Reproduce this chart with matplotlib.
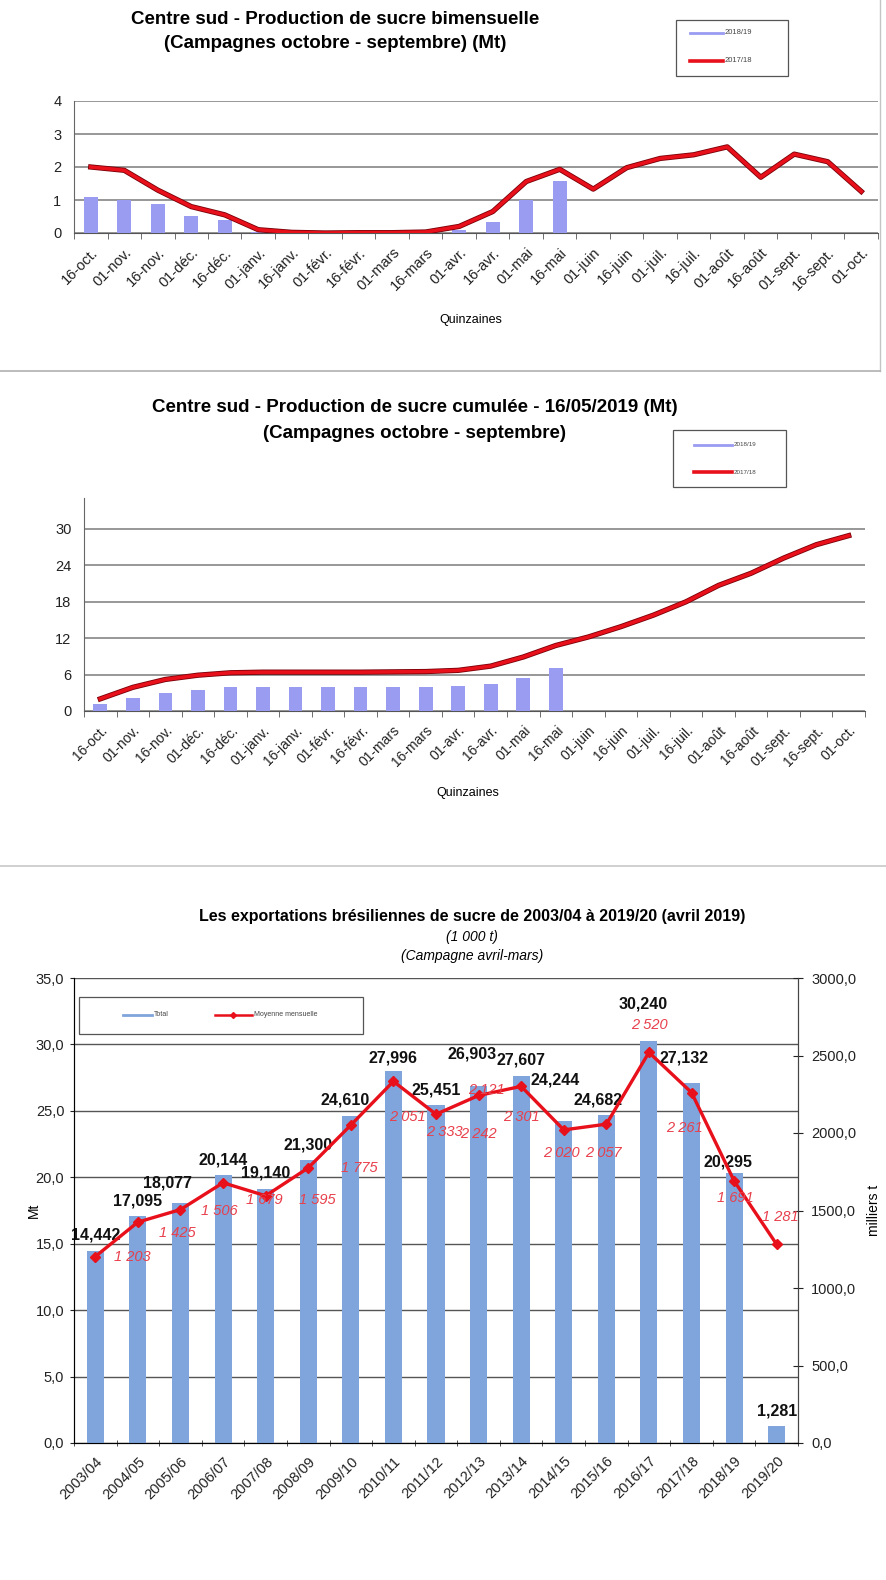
import matplotlib
matplotlib.use("Agg")
import matplotlib.pyplot as plt
import matplotlib.patheffects as pe
from matplotlib.lines import Line2D
from matplotlib.patches import Rectangle
from matplotlib.ticker import FuncFormatter, FixedLocator
import numpy as np

plt.rcParams['font.family'] = ['Liberation Sans', 'DejaVu Sans']

# --- donnees ---
QUINZAINES = ['16-oct.', '01-nov.', '16-nov.', '01-déc.', '16-déc.', '01-janv.',
              '16-janv.', '01-févr.', '16-févr.', '01-mars', '16-mars', '01-avr.',
              '16-avr.', '01-mai', '16-mai', '01-juin', '16-juin', '01-juil.',
              '16-juil.', '01-août', '16-août', '01-sept.', '16-sept.', '01-oct.']

BIMENS_1819 = [1.08, 1.00, 0.88, 0.52, 0.40, 0.02, 0.0, 0.0, 0.0, 0.0, 0.0,
               0.10, 0.33, 1.00, 1.57]
BIMENS_1718 = [2.00, 1.90, 1.30, 0.80, 0.55, 0.10, 0.02, 0.00, 0.01, 0.01, 0.03,
               0.20, 0.65, 1.56, 1.93, 1.33, 1.98, 2.26, 2.37, 2.61, 1.69, 2.39,
               2.16, 1.26]

CUMUL_1819 = [1.1, 2.1, 3.0, 3.5, 3.9, 4.0, 4.0, 4.0, 4.0, 4.0, 4.0, 4.1, 4.4,
              5.4, 7.1]
CUMUL_1718 = [2.0, 3.9, 5.2, 5.9, 6.3, 6.4, 6.4, 6.4, 6.4, 6.45, 6.5, 6.7, 7.4,
              8.9, 10.8, 12.2, 13.9, 15.8, 18.0, 20.7, 22.7, 25.2, 27.4, 28.9]

CAMPAGNES = ['2003/04', '2004/05', '2005/06', '2006/07', '2007/08', '2008/09',
             '2009/10', '2010/11', '2011/12', '2012/13', '2013/14', '2014/15',
             '2015/16', '2016/17', '2017/18', '2018/19', '2019/20']
TOTAL_MT = [14.442, 17.095, 18.077, 20.144, 19.140, 21.300, 24.610, 27.996,
            25.451, 26.903, 27.607, 24.244, 24.682, 30.240, 27.132, 20.295, 1.281]
MOYENNE_KT = [1203, 1425, 1506, 1679, 1595, 1775, 2051, 2333, 2121, 2242, 2301,
              2020, 2057, 2520, 2261, 1691, 1281]

# decalages des etiquettes (pixels, y vers le haut)
OFF_BARRES = [(0, 16), (0, 15), (-13, 20), (0, 15), (0, 16), (0, 15), (-6, 16),
              (0, 13), (0, 15), (-7, 32), (0, 16), (-9, 41), (-8, 15), (-6, 37),
              (-7, 25), (-6, 11), (0, 15)]
OFF_MOY = [(37, 0), (39, -11), (39, -1), (41, -17), (52, -4), (51, 0), (57, 8),
           (51, -51), (50, 24), (0, -39), (0, -31), (-2, -23), (-3, -29),
           (0, 27), (-7, -35), (1, -17), (4, 27)]

W, H = 887, 1580
BLEU_Q = '#9a9cf2'
BLEU_T = '#7fa5dc'
ROUGE = '#e8101a'
GRILLE = '#7a7a7a'

fig = plt.figure(figsize=(W / 100, H / 100), dpi=100)
fig.patch.set_facecolor('white')


def ax_px(l, t, r, b):
    return fig.add_axes([l / W, 1 - b / H, (r - l) / W, (b - t) / H])


def fx(x):
    return x / W


def fy(y):
    return 1 - y / H


def legende(box, items, fs=5.5):
    x0, y0, x1, y1 = box
    fig.add_artist(Rectangle((fx(x0), fy(y1)), fx(x1) - fx(x0), fy(y0) - fy(y1),
                             transform=fig.transFigure, fill=False,
                             edgecolor='#555555', lw=0.9))
    for (la, lb, y, col, lw, txt, mk) in items:
        fig.add_artist(Line2D([fx(la), fx(lb)], [fy(y), fy(y)], color=col, lw=lw,
                              transform=fig.transFigure))
        if mk:
            fig.add_artist(Line2D([fx((la + lb) / 2)], [fy(y)], marker='D', ms=3,
                                  color=col, transform=fig.transFigure))
        fig.text(fx(lb + 2), fy(y), txt, fontsize=fs, color='#444444',
                 va='center', ha='left')


def ligne_rouge(ax, x, y, lw=2.6):
    ax.plot(x, y, color=ROUGE, lw=lw, solid_joinstyle='round', zorder=4,
            path_effects=[pe.Stroke(linewidth=lw + 1.2, foreground='#7a0008'),
                          pe.Normal()])


def axe_quinzaines(ax, fs):
    n = len(QUINZAINES)
    ax.set_xlim(-0.5, n - 0.5)
    ax.set_xticks(range(n))
    ax.set_xticklabels(QUINZAINES, rotation=45, ha='right', va='top',
                       rotation_mode='anchor', fontsize=fs, color='#222222')
    ax.xaxis.set_minor_locator(FixedLocator(np.arange(-0.5, n, 1.0)))
    ax.tick_params(axis='x', which='major', length=0, pad=9)
    ax.tick_params(axis='x', which='minor', length=4, color='#555555')
    ax.tick_params(axis='y', length=0, labelsize=10.5, pad=9, colors='#222222')
    for s in ['top', 'right']:
        ax.spines[s].set_visible(False)
    ax.spines['left'].set_color('#666666')
    ax.spines['bottom'].set_color('#555555')
    ax.yaxis.grid(True, color=GRILLE, lw=1.1)
    ax.set_axisbelow(True)


# ---------- graphique 1 : production bimensuelle ----------
ax1 = ax_px(74, 101, 878, 233)
x = np.arange(len(QUINZAINES))
ax1.bar(x[:len(BIMENS_1819)], BIMENS_1819, width=0.42, color=BLEU_Q, zorder=3)
ligne_rouge(ax1, x, BIMENS_1718)
ax1.set_ylim(0, 4)
ax1.set_yticks([0, 1, 2, 3, 4])
axe_quinzaines(ax1, 10.5)
fig.text(fx(335), fy(20), 'Centre sud - Production de sucre bimensuelle',
         ha='center', va='center', fontsize=13.5, fontweight='bold')
fig.text(fx(335), fy(44), '(Campagnes octobre - septembre) (Mt)',
         ha='center', va='center', fontsize=13.5, fontweight='bold')
fig.text(fx(471), fy(320), 'Quinzaines', ha='center', va='center', fontsize=9)
legende((676, 20, 788, 76),
        [(690, 723, 33, BLEU_Q, 2, '2018/19', False),
         (690, 723, 61, ROUGE, 2.6, '2017/18', False)])
# cadre du premier graphique
fig.add_artist(Line2D([fx(880), fx(880)], [fy(0), fy(371)], color='#c4c4c4',
                      lw=1, transform=fig.transFigure))
fig.add_artist(Line2D([0, fx(880)], [fy(371), fy(371)], color='#b0b0b0',
                      lw=1.2, transform=fig.transFigure))

# ---------- graphique 2 : production cumulee ----------
ax2 = ax_px(84, 498, 865, 711)
ax2.bar(x[:len(CUMUL_1819)], CUMUL_1819, width=0.42, color=BLEU_Q, zorder=3)
ligne_rouge(ax2, x, CUMUL_1718)
ax2.set_ylim(0, 35.1)
ax2.set_yticks([0, 6, 12, 18, 24, 30])
axe_quinzaines(ax2, 10)
fig.text(fx(415), fy(408), 'Centre sud - Production de sucre cumulée - 16/05/2019 (Mt)',
         ha='center', va='center', fontsize=13.5, fontweight='bold')
fig.text(fx(415), fy(433), '(Campagnes octobre - septembre)',
         ha='center', va='center', fontsize=13.5, fontweight='bold')
fig.text(fx(468), fy(793), 'Quinzaines', ha='center', va='center', fontsize=9)
legende((673, 430, 786, 487),
        [(694, 732, 445, BLEU_Q, 2, '2018/19', False),
         (694, 732, 472, ROUGE, 2.6, '2017/18', False)], fs=4.5)
fig.add_artist(Line2D([0, 1], [fy(866), fy(866)], color='#c8c8c8', lw=1.2,
                      transform=fig.transFigure))

# ---------- graphique 3 : exportations ----------
ax3 = ax_px(74, 978, 798, 1443)
xc = np.arange(len(CAMPAGNES))
ax3.bar(xc, TOTAL_MT, width=0.4, color=BLEU_T, zorder=3)
ax3.set_xlim(-0.5, len(CAMPAGNES) - 0.5)
ax3.set_ylim(0, 35)
ax3.set_yticks(np.arange(0, 35.1, 5))
ax3.yaxis.set_major_formatter(FuncFormatter(lambda v, _: f"{v:.1f}".replace('.', ',')))
ax3.yaxis.grid(True, color='#555555', lw=1.0)
ax3.set_axisbelow(True)
ax3.set_xticks(xc)
ax3.set_xticklabels(CAMPAGNES, rotation=45, ha='right', va='top',
                    rotation_mode='anchor', fontsize=10.5, color='#222222')
ax3.xaxis.set_minor_locator(FixedLocator(np.arange(-0.5, len(CAMPAGNES), 1.0)))
ax3.tick_params(axis='x', which='major', length=0, pad=8)
ax3.tick_params(axis='x', which='minor', length=5, direction='inout', color='#333333')
ax3.tick_params(axis='y', length=3, labelsize=10.5, colors='#222222', pad=4)
ax3.spines['top'].set_visible(False)
for s in ['left', 'bottom', 'right']:
    ax3.spines[s].set_color('#444444')
ax3.set_ylabel('Mt', fontsize=10, labelpad=-4)

ax4 = ax3.twinx()
ax4.set_ylim(0, 3000)
ax4.set_yticks(np.arange(0, 3001, 500))
ax4.yaxis.set_major_formatter(FuncFormatter(lambda v, _: f"{v:.1f}".replace('.', ',')))
ax4.tick_params(axis='y', length=7, direction='inout', labelsize=10.5,
                colors='#222222', pad=6)
ax4.spines['top'].set_visible(False)
ax4.spines['right'].set_color('#444444')
ax4.set_ylabel('milliers t', fontsize=10, labelpad=8)
ax4.plot(xc, MOYENNE_KT, color=ROUGE, lw=2.4, marker='D', ms=5, zorder=5)

for i, v in enumerate(TOTAL_MT):
    dx, dy = OFF_BARRES[i]
    ax3.annotate(f"{v:.3f}".replace('.', ','), (i, v), xytext=(dx * 0.72, dy * 0.72),
                 textcoords='offset points', ha='center', va='center',
                 fontsize=11.5, fontweight='bold', color='#111111', zorder=6)
for i, v in enumerate(MOYENNE_KT):
    dx, dy = OFF_MOY[i]
    ax4.annotate(f"{v:,}".replace(',', ' '), (i, v), xytext=(dx * 0.72, dy * 0.72),
                 textcoords='offset points', ha='center', va='center',
                 fontsize=10.5, style='italic', color='#e8404c', zorder=6)

fig.text(fx(472), fy(917),
         'Les exportations brésiliennes de sucre de 2003/04 à 2019/20 (avril 2019)',
         ha='center', va='center', fontsize=11.5, fontweight='bold')
fig.text(fx(472), fy(937), '(1 000 t)', ha='center', va='center', fontsize=10,
         style='italic')
fig.text(fx(472), fy(956), '(Campagne avril-mars)', ha='center', va='center',
         fontsize=10, style='italic')
legende((79, 997, 363, 1034),
        [(123, 152, 1015, BLEU_T, 2, 'Total', False),
         (215, 252, 1015, ROUGE, 1.8, 'Moyenne mensuelle', True)], fs=5)

fig.savefig('out.png', dpi=100, facecolor='white')
